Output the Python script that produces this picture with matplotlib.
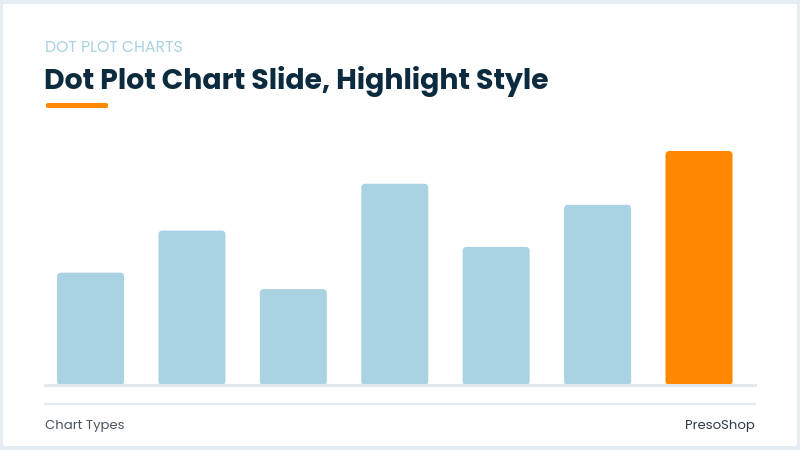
import matplotlib
matplotlib.use("Agg")
import matplotlib.pyplot as plt
from matplotlib.patches import FancyBboxPatch

categories = ["A", "B", "C", "D", "E", "F", "G"]
values = [48, 66, 41, 86, 59, 77, 100]
highlight = "G"

kicker = "DOT PLOT CHARTS"
title = "Dot Plot Chart Slide, Highlight Style"
footer_left = "Chart Types"
footer_right = "PresoShop"

W, H = 800, 450
fig = plt.figure(figsize=(8, 4.5), dpi=100)
fig.patch.set_facecolor("#e6edf2")

# card background
card = FancyBboxPatch((3 / W, 4 / H), 794 / W, 442 / H,
                      boxstyle="round,pad=0,rounding_size=0.004",
                      transform=fig.transFigure, facecolor="white",
                      edgecolor="none", zorder=-5)
fig.patches.append(card)

FONT = ["Poppins", "Inter", "DejaVu Sans"]

fig.text(45 / W, 1 - 47.5 / H, kicker, color="#a9d3e0", fontsize=11.3,
         family=FONT, va="center", ha="left")
fig.text(44 / W, 1 - 81.5 / H, title, color="#0d2b3e", fontsize=20.4,
         fontweight="bold", family=FONT, va="center", ha="left")
accent = FancyBboxPatch((46 / W, 1 - 108 / H), 62 / W, 5 / H,
                        boxstyle="round,pad=0,rounding_size=0.003",
                        transform=fig.transFigure, facecolor="#ff8800",
                        edgecolor="none")
fig.patches.append(accent)

# chart axes: x from 45 to 755 px, y baseline 385, top(100) at 151
ax_left, ax_right = 45, 755
ax_bottom, ax_top = 385, 151
ax = fig.add_axes([ax_left / W, 1 - ax_bottom / H,
                   (ax_right - ax_left) / W, (ax_bottom - ax_top) / H])
ax.set_zorder(2)
ax.patch.set_alpha(0)
n = len(categories)
xs = list(range(n))
ax.set_xlim(-0.449, n - 1 + 0.552)
ax.set_ylim(0, 100)
ax.axis("off")

px_per_x = (ax_right - ax_left) / (n - 1 + 0.552 + 0.449)
px_per_y = (ax_bottom - ax_top) / 100.0
bar_w = 67 / px_per_x
r_px = 4
rx = r_px / px_per_x
aspect = (r_px / px_per_y) / rx

for x, cat, v in zip(xs, categories, values):
    col = "#ff8800" if cat == highlight else "#a9d3e3"
    p = FancyBboxPatch((x - bar_w / 2, 0), bar_w, v,
                       boxstyle=f"round,pad=0,rounding_size={rx}",
                       mutation_aspect=aspect, facecolor=col,
                       edgecolor="none", zorder=2, clip_on=False)
    ax.add_patch(p)

# baseline and divider
fig.add_artist(plt.Line2D([ax_left / W, ax_right / W], [1 - 385 / H, 1 - 385 / H],
                          color="#e3e8ec", lw=2.2, zorder=3))
fig.add_artist(plt.Line2D([ax_left / W, ax_right / W], [1 - 404 / H, 1 - 404 / H],
                          color="#e6ebef", lw=1.5, zorder=3))

fig.text(45 / W, 1 - 425.5 / H, footer_left, color="#4a5560", fontsize=9.5,
         family=FONT, va="center", ha="left")
fig.text(755 / W, 1 - 425.5 / H, footer_right, color="#2f3a44", fontsize=9.5,
         family=FONT, va="center", ha="right")

fig.savefig("out.png", dpi=100, facecolor=fig.get_facecolor())
